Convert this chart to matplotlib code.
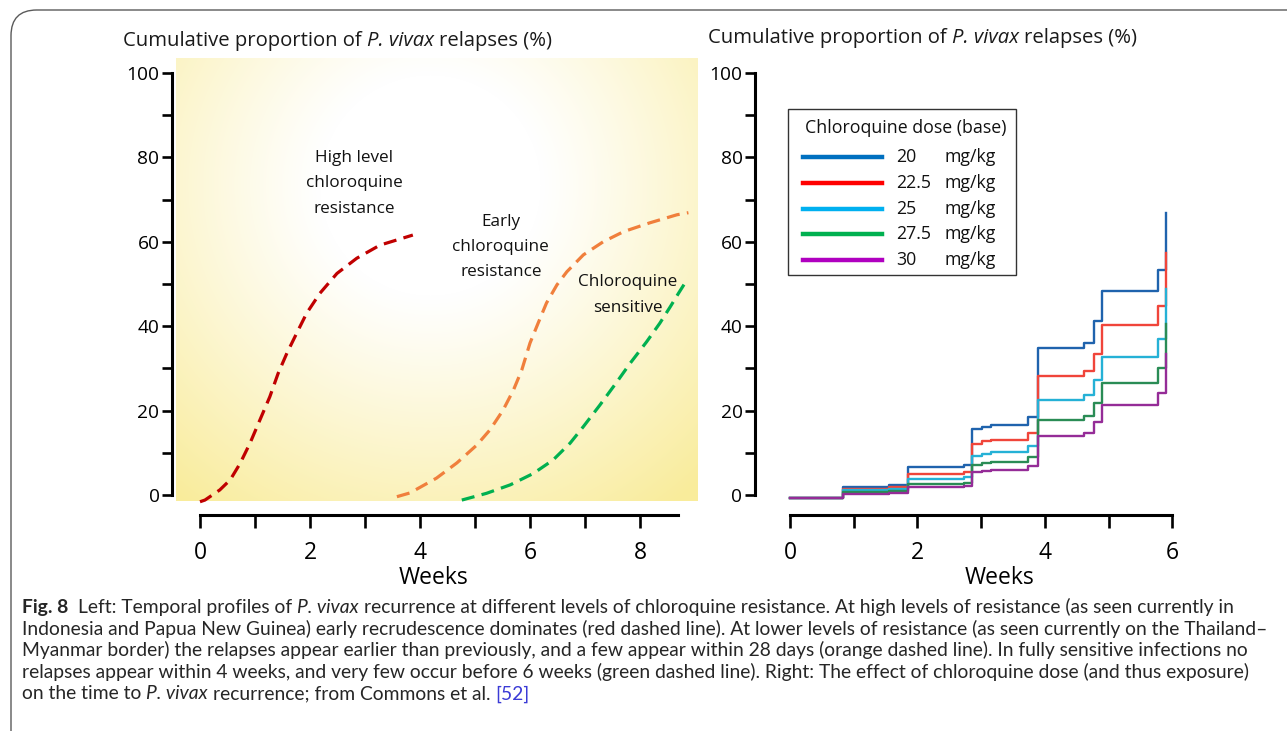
import numpy as np
import matplotlib
matplotlib.use("Agg")
import matplotlib.pyplot as plt
from matplotlib import font_manager
from matplotlib.patches import FancyBboxPatch, Rectangle
from matplotlib.lines import Line2D

# ---------------- data ----------------
# Left panel: schematic cumulative relapse curves (weeks, %)
red_x = [0.0, 0.09, 0.36, 0.55, 0.73, 0.91, 1.09, 1.27, 1.42, 1.58, 1.76, 1.94, 2.18, 2.49, 2.85, 3.27, 3.87]
red_y = [-1.6, -1.2, 1.2, 3.6, 7.5, 12.3, 17.8, 23.3, 28.8, 33.6, 38.4, 43.1, 47.8, 52.5, 56.1, 59.2, 61.6]
orange_x = [3.58, 3.82, 4.30, 4.67, 5.03, 5.27, 5.51, 5.70, 5.85, 6.00, 6.15, 6.30, 6.49, 6.67, 6.97,
            7.33, 7.70, 8.18, 8.67, 8.88]
orange_y = [-0.4, 0.5, 4.0, 7.6, 11.8, 15.4, 20.1, 24.9, 29.6, 36.0, 40.8, 45.5, 49.8, 52.9, 56.9,
            60.0, 62.4, 64.5, 66.4, 66.9]
green_x = [4.76, 5.21, 5.64, 6.06, 6.42, 6.73, 6.97, 7.27, 7.58, 7.82, 8.12, 8.36, 8.55, 8.70, 8.85]
green_y = [-1.2, 0.4, 2.4, 5.1, 8.3, 12.3, 16.2, 21.3, 26.8, 31.2, 36.3, 40.7, 44.6, 47.8, 50.9]

curve_labels = ["High level\nchloroquine\nresistance",
                "Early\nchloroquine\nresistance",
                "Chloroquine\nsensitive"]

# Right panel: step curves by chloroquine dose
step_t = [0, 0.83, 1.55, 1.85, 2.73, 2.86, 3.02, 3.16, 3.74, 3.89, 4.61, 4.77, 4.90, 5.77, 5.91]
dose_20 = [-0.8, 1.9, 2.4, 6.7, 7.1, 15.6, 16.0, 16.6, 18.6, 34.9, 36.1, 41.2, 48.4, 53.4, 66.8]
dose_22_5 = [-0.8, 1.4, 1.9, 5.0, 5.5, 12.2, 12.8, 13.1, 14.6, 28.3, 29.4, 33.5, 40.2, 44.9, 57.4]
dose_25 = [-0.8, 1.1, 1.4, 3.8, 4.2, 9.3, 9.8, 10.2, 11.5, 22.5, 23.6, 27.2, 32.8, 37.0, 48.7]
dose_27_5 = [-0.8, 0.8, 1.0, 2.5, 2.8, 7.1, 7.6, 7.9, 8.9, 17.8, 18.7, 21.7, 26.5, 30.2, 40.6]
dose_30 = [-0.8, 0.2, 0.5, 2.0, 2.2, 5.4, 5.7, 6.0, 6.8, 14.0, 14.8, 17.2, 21.3, 24.1, 33.3]
dose_labels = ["20", "22.5", "25", "27.5", "30"]

y_ticks = [0, 20, 40, 60, 80, 100]
y_minor = [10, 30, 50, 70, 90]
left_xticks = [0, 1, 2, 3, 4, 5, 6, 7, 8]
left_xlabels = ["0", "", "2", "", "4", "", "6", "", "8"]
right_xticks = [0, 1, 2, 3, 4, 5, 6]
right_xlabels = ["0", "", "2", "", "4", "", "6"]

title_runs = [("Cumulative proportion of ", "normal"), ("P. vivax", "italic"), (" relapses (%)", "normal")]
caption_lines = [
    [("Fig. 8", "bold"), ("  Left: Temporal profiles of ", "normal"), ("P. vivax", "italic"),
     (" recurrence at different levels of chloroquine resistance. At high levels of resistance (as seen currently in", "normal")],
    [("Indonesia and Papua New Guinea) early recrudescence dominates (red dashed line). At lower levels of resistance (as seen currently on the Thailand\u2013", "normal")],
    [("Myanmar border) the relapses appear earlier than previously, and a few appear within 28 days (orange dashed line). In fully sensitive infections no", "normal")],
    [("relapses appear within 4 weeks, and very few occur before 6 weeks (green dashed line). Right: The effect of chloroquine dose (and thus exposure)", "normal")],
    [("on the time to ", "normal"), ("P. vivax", "italic"), (" recurrence; from Commons et al. ", "normal"), ("[52]", "link")],
]

# ---------------- setup ----------------
W, H = 1287, 731
names = {f.name for f in font_manager.fontManager.ttflist}
FONT = "Open Sans" if "Open Sans" in names else "DejaVu Sans"
CAPFONT = "Lato" if "Lato" in names else "DejaVu Sans"
plt.rcParams["font.family"] = [FONT, "DejaVu Sans"]

fig = plt.figure(figsize=(W / 100, H / 100), dpi=100)
fig.patch.set_facecolor("white")
renderer = fig.canvas.get_renderer()


def rect(l, t, r, b):
    return [l / W, 1 - b / H, (r - l) / W, (b - t) / H]


def runs_text(x_px, y_px, runs, size, family, color="#1a1a1a"):
    t1 = fig.text(0, 0, "x x", fontsize=size, family=family)
    t2 = fig.text(0, 0, "xx", fontsize=size, family=family)
    sp = t1.get_window_extent(renderer).width - t2.get_window_extent(renderer).width
    t1.remove(); t2.remove()
    x = x_px
    for s, style in runs:
        lead = len(s) - len(s.lstrip(" "))
        trail = len(s) - len(s.rstrip(" "))
        x += lead * sp
        core = s.strip(" ")
        kw = dict(fontsize=size, family=family, va="baseline", ha="left", color=color)
        if style == "italic":
            kw["style"] = "italic"
        elif style == "bold":
            kw["weight"] = "bold"
        elif style == "link":
            kw["color"] = "#3b3bd6"
        t = fig.text(x / W, 1 - y_px / H, core, **kw)
        x += t.get_window_extent(renderer).width
        x += trail * sp
    return x


# outer frame (only left and top edges visible)
frame = FancyBboxPatch((11 / W, -0.2), 1.3, 1 - 10 / H + 0.2,
                       boxstyle="round,pad=0,rounding_size=0.02",
                       transform=fig.transFigure, fill=False, ec="#5a5a5a", lw=1.0,
                       mutation_aspect=W / H)
fig.patches.append(frame)

# ---------------- left panel ----------------
axL = fig.add_axes(rect(150, 55, 710, 540))
x0L, sxL = 200, 55.0
y0, sy = 495, 4.22
axL.set_xlim((150 - x0L) / sxL, (710 - x0L) / sxL)
axL.set_ylim((y0 - 540) / sy, (y0 - 55) / sy)
axL.patch.set_alpha(0)

# background gradient
gx = np.arange(176, 698)
gy = np.arange(58, 501)
GX, GY = np.meshgrid(gx, gy)
d = np.sqrt((GX - 430) ** 2 + (GY - 185) ** 2)
t = np.clip((d - 110) / 290.0, 0, 1) ** 1.1
yellow = np.array([249, 236, 155]) / 255.0
img = (1 - t)[..., None] * np.ones(3) + t[..., None] * yellow
axL.imshow(img, extent=((176 - x0L) / sxL, (698 - x0L) / sxL, (y0 - 501) / sy, (y0 - 58) / sy),
           aspect="auto", origin="upper", zorder=0, interpolation="bilinear")

dash = dict(lw=2.3, linestyle=(0, (4.1, 2.3)), dash_capstyle="butt", zorder=3)
axL.plot(red_x, red_y, color="#c00000", **dash)
axL.plot(orange_x, orange_y, color="#f07f3c", **dash)
axL.plot(green_x, green_y, color="#00b050", **dash)

lab_pos = [(2.8, 73.9), (5.47, 58.8), (7.78, 47.4)]
for (lx, ly), s in zip(lab_pos, curve_labels):
    axL.text(lx, ly, s, ha="center", va="center", multialignment="center",
             fontsize=12.3, linespacing=1.78, color="#111111", zorder=4)

# ---------------- right panel ----------------
axR = fig.add_axes(rect(730, 55, 1210, 540))
x0R, sxR = 790, 63.7
axR.set_xlim((730 - x0R) / sxR, (1210 - x0R) / sxR)
axR.set_ylim((y0 - 540) / sy, (y0 - 55) / sy)
axR.patch.set_alpha(0)

step_cols = ["#1f63ad", "#f0453a", "#25b1d6", "#2a8c55", "#952c97"]
leg_cols = ["#0070c0", "#ff0000", "#00b0f0", "#00b050", "#b000c0"]
series = [dose_20, dose_22_5, dose_25, dose_27_5, dose_30]
for i, (vals, c) in enumerate(zip(series, step_cols)):
    axR.plot(step_t, vals, drawstyle="steps-post", color=c, lw=1.7, zorder=3 + i)

# manual legend box
lx0, lx1, ly0, ly1 = 788, 1016, 109, 275
fig.patches.append(Rectangle((lx0 / W, 1 - ly1 / H), (lx1 - lx0) / W, (ly1 - ly0) / H,
                             transform=fig.transFigure, fill=True, fc="white",
                             ec="#333333", lw=1.0, zorder=5))
fig.text(906 / W, 1 - 128 / H, "Chloroquine dose (base)", ha="center", va="center",
         fontsize=12.8, color="#111111", zorder=6)
for i, (lab, c) in enumerate(zip(dose_labels, leg_cols)):
    yy = 1 - [157, 183, 209, 234, 260][i] / H
    fig.lines.append(Line2D([803 / W, 882 / W], [yy, yy], transform=fig.transFigure,
                            color=c, lw=3.2, zorder=6))
    fig.text(896 / W, yy, lab, ha="left", va="center", fontsize=12.8, color="#111111", zorder=6)
    fig.text(944 / W, yy, "mg/kg", ha="left", va="center", fontsize=12.8, color="#111111", zorder=6)

# ---------------- axes styling ----------------
for ax, spine_x, xt, xl, xb in [(axL, (172 - x0L) / sxL, left_xticks, left_xlabels, (0, (678 - x0L) / sxL)),
                                 (axR, (755 - x0R) / sxR, right_xticks, right_xlabels, (0, 6))]:
    for s in ["top", "right"]:
        ax.spines[s].set_visible(False)
    ax.spines["left"].set_position(("data", spine_x))
    ax.spines["left"].set_bounds(0, 100)
    ax.spines["bottom"].set_position(("data", (y0 - 515) / sy))
    ax.spines["bottom"].set_bounds(*xb)
    for s in ["left", "bottom"]:
        ax.spines[s].set_linewidth(2.2)
        ax.spines[s].set_color("black")
    ax.set_yticks(y_ticks)
    ax.set_yticklabels([str(v) for v in y_ticks])
    ax.set_yticks(y_minor, minor=True)
    ax.tick_params(axis="y", which="both", direction="out", length=7, width=1.9, pad=2,
                   labelsize=13.8, colors="black")
    ax.set_xticks(xt)
    ax.set_xticklabels(xl)
    ax.tick_params(axis="x", direction="out", length=9, width=1.9, pad=10,
                   labelsize=16.5, colors="black")

fig.text(434 / W, 1 - 578 / H, "Weeks", ha="center", va="center", fontsize=16.5)
fig.text(1000 / W, 1 - 578 / H, "Weeks", ha="center", va="center", fontsize=16.5)

# titles
runs_text(123, 46, title_runs, 14.6, FONT)
runs_text(708, 43, title_runs, 14.6, FONT)

# caption
cap_size = 13.0
tmp = fig.text(0, 0, caption_lines[1][0][0], fontsize=cap_size, family=CAPFONT)
wmeas = tmp.get_window_extent(renderer).width
tmp.remove()
cap_size = min(cap_size * 1243.0 / wmeas, 15.0)
for i, line in enumerate(caption_lines):
    runs_text(22, 613 + i * 21.6, line, cap_size, CAPFONT, color="#262626")

fig.savefig("out.png", dpi=100, facecolor="white")
